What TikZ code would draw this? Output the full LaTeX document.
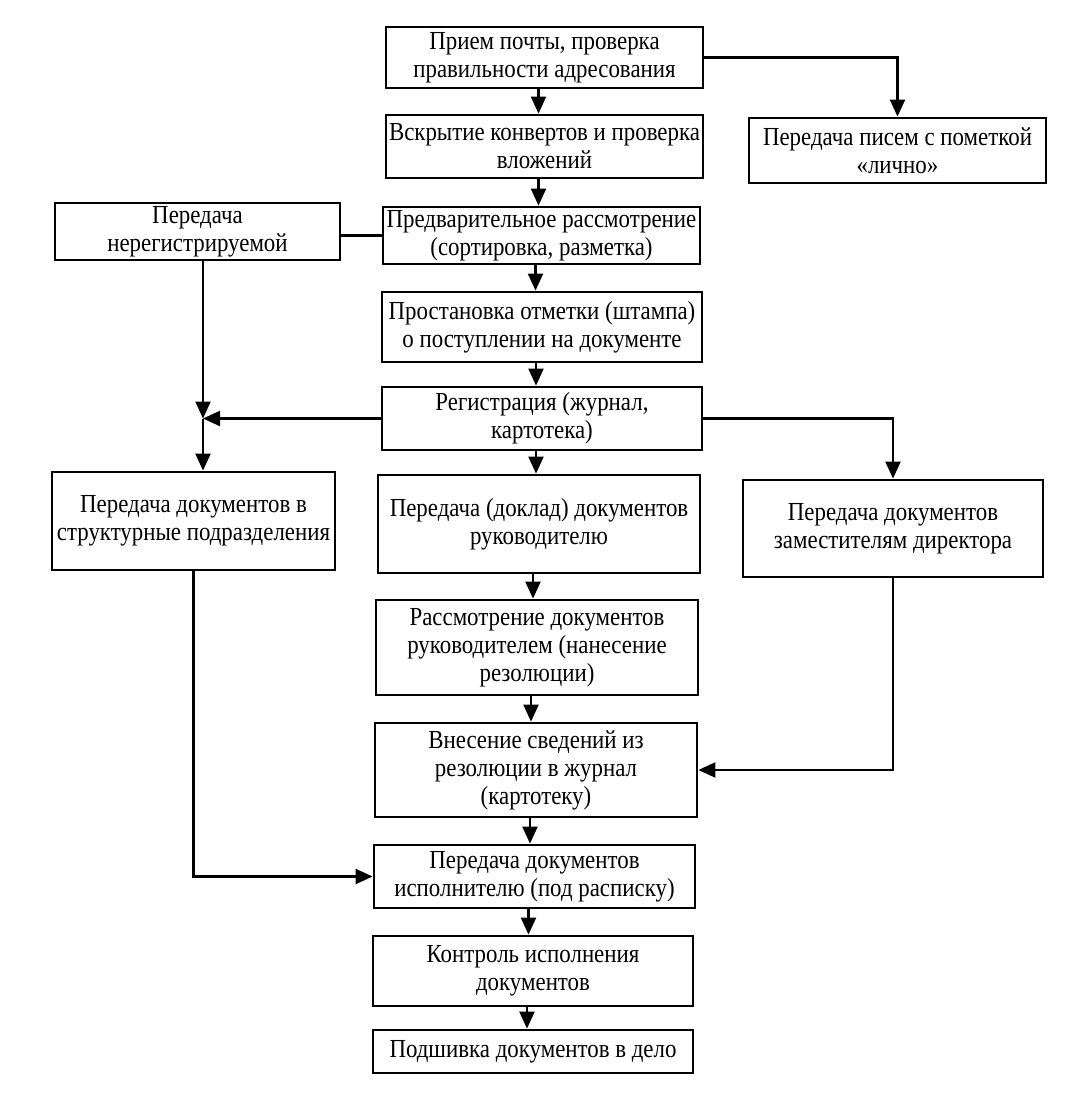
\documentclass[tikz,border=0pt]{standalone}
\usepackage{fontspec}
\setmainfont[FakeStretch=0.88]{Liberation Serif}
\usepackage{tikz}
\usetikzlibrary{arrows.meta}

\begin{document}
\begin{tikzpicture}[x=1pt,y=-1pt,->,>={Triangle[length=17pt,width=15pt]},line width=2.2pt,
  main node/.style={rectangle, draw, line width=2.8pt, inner sep=0pt, align=center,
    font=\fontsize{26}{28}\selectfont}]
			\useasboundingbox (0,0) rectangle (1086,1109);
			% Nodes, centre column
			\node[main node, minimum width=317pt, minimum height=61pt] (1) at (544.5,57.5) {Прием почты, проверка\\правильности адресования};
			\node[main node, minimum width=317pt, minimum height=63pt] (2) at (544.5,146.5) {Вскрытие конвертов и проверка\\вложений};
			\node[main node, minimum width=317pt, minimum height=57pt] (3) at (541.5,235.5) {Предварительное рассмотрение\\(сортировка, разметка)};
			\node[main node, minimum width=320pt, minimum height=70pt] (4) at (542,327) {Простановка отметки (штампа)\\о поступлении на документе};
			\node[main node, minimum width=320pt, minimum height=63pt] (5) at (542,418.5) {Регистрация (журнал,\\картотека)};
			\node[main node, minimum width=322pt, minimum height=98pt] (6) at (539,524) {Передача (доклад) документов\\руководителю};
			\node[main node, minimum width=322pt, minimum height=95pt] (7) at (537,647.5) {Рассмотрение документов\\руководителем (нанесение\\резолюции)};
			\node[main node, minimum width=322pt, minimum height=94pt] (8) at (536,770) {Внесение сведений из\\резолюции в журнал\\(картотеку)};
			\node[main node, minimum width=321pt, minimum height=63pt] (9) at (534.5,876.5) {Передача документов\\исполнителю (под расписку)};
			\node[main node, minimum width=320pt, minimum height=70pt] (10) at (533,971) {Контроль исполнения\\документов};
			\node[main node, minimum width=320pt, minimum height=43pt] (11) at (533,1051.5) {Подшивка документов в дело};
			
			% Nodes, sides
			\node[main node, minimum width=297pt, minimum height=65pt] (12) at (897.5,150.5) {Передача писем с пометкой\\«лично»};
			\node[main node, minimum width=300pt, minimum height=97pt] (13) at (893,528.5) {Передача документов\\заместителям директора};
			\node[main node, minimum width=285pt, minimum height=57pt] (14) at (197.5,231.5) {Передача\\нерегистрируемой};
			\node[main node, minimum width=283pt, minimum height=98pt] (15) at (193.5,521) {Передача документов в\\структурные подразделения};
			\coordinate (j) at (203,418.5);
			
			% centre column arrows
			\foreach \a/\b in {1/2,2/3,3/4,4/5,5/6,6/7,7/8,8/9,9/10,10/11}
			\draw ([xshift=-6pt]\a.south) -- ([xshift=-6pt]\a.south |- \b.north);
			
			% side connectors
			\draw (1.east) -| (12.north);
			\draw[-] (3.west) -- (3.west -| 14.east);
			\draw (14.south -| j) -- (j);
			\draw (5.west) -- (j);
			\draw (j) -- (j |- 15.north);
			\draw (5.east) -| (13.north);
			\draw (13.south) |- (8.east);
			\draw (15.south) |- (9.west);
			
\end{tikzpicture}
\end{document}
